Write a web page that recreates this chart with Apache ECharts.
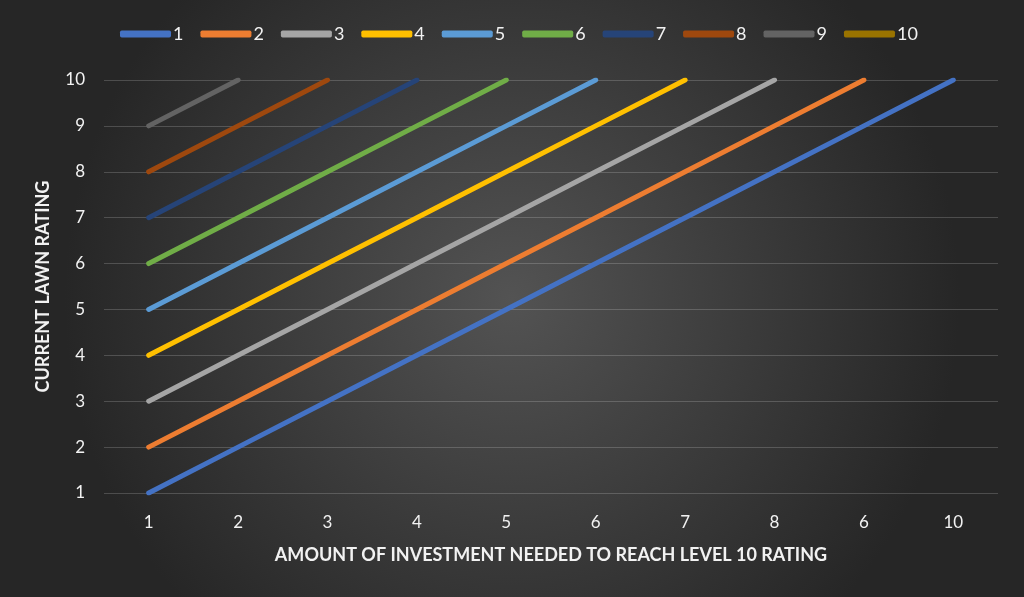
<!DOCTYPE html>
<html><head><meta charset="utf-8">
<script src="https://cdn.jsdelivr.net/npm/echarts@6/dist/echarts.min.js"></script>
<style>html,body{margin:0;padding:0;}#c{width:1024px;height:597px;}</style>
</head><body><div id="c"></div>
<script>
const categories = ['1','2','3','4','5','6','7','8','6','10'];
const yTicks = [1,2,3,4,5,6,7,8,9,10];
const seriesNames = ['1','2','3','4','5','6','7','8','9','10'];
const s1 = [1,2,3,4,5,6,7,8,9,10];
const s2 = [2,3,4,5,6,7,8,9,10,null];
const s3 = [3,4,5,6,7,8,9,10,null,null];
const s4 = [4,5,6,7,8,9,10,null,null,null];
const s5 = [5,6,7,8,9,10,null,null,null,null];
const s6 = [6,7,8,9,10,null,null,null,null,null];
const s7 = [7,8,9,10,null,null,null,null,null,null];
const s8 = [8,9,10,null,null,null,null,null,null,null];
const s9 = [9,10,null,null,null,null,null,null,null,null];
const s10 = [10,null,null,null,null,null,null,null,null,null];
const allSeries = [s1,s2,s3,s4,s5,s6,s7,s8,s9,s10];
const colors = ['#4472C4','#ED7D31','#A5A5A5','#FFC000','#5B9BD5','#70AD47','#264478','#9E480E','#636363','#997300'];

const font = 'Lato, "Open Sans", sans-serif';
const chart = echarts.init(document.getElementById('c'));
chart.setOption({
  backgroundColor: {
    type: 'radial', x: 0.5, y: 0.5, r: 0.75,
    colorStops: [{offset: 0, color: '#535353'}, {offset: 1, color: '#262626'}]
  },
  color: colors,
  textStyle: {fontFamily: font},
  legend: {
    top: 20, left: 115, itemWidth: 51, itemHeight: 7, itemGap: 17,
    icon: 'roundRect',
    textStyle: {color: '#f2f2f2', fontSize: 18, fontFamily: font, padding: [0,0,0,-3]},
    data: seriesNames
  },
  grid: {left: 104, right: 26, top: 80, bottom: 104, containLabel: false},
  xAxis: {
    type: 'category', data: categories, boundaryGap: true,
    name: 'AMOUNT OF INVESTMENT NEEDED TO REACH LEVEL 10 RATING',
    nameLocation: 'middle', nameGap: 53,
    nameTextStyle: {color: '#f2f2f2', fontSize: 18, fontWeight: 'bold', fontFamily: font},
    axisLine: {show: false}, axisTick: {show: false},
    axisLabel: {color: '#f2f2f2', fontSize: 17, margin: 21, fontFamily: font}
  },
  yAxis: {
    type: 'value', min: 1, max: 10, interval: 1,
    name: 'CURRENT LAWN RATING', nameLocation: 'middle', nameGap: 52,
    nameTextStyle: {color: '#f2f2f2', fontSize: 18, fontWeight: 'bold', fontFamily: font},
    axisLine: {show: false}, axisTick: {show: false},
    axisLabel: {color: '#f2f2f2', fontSize: 17, margin: 19, fontFamily: font},
    splitLine: {lineStyle: {color: 'rgba(255,255,255,0.18)', width: 1}}
  },
  series: allSeries.map((d, i) => ({
    name: seriesNames[i], type: 'line', data: d,
    showSymbol: false, symbol: 'none',
    lineStyle: {width: 5, cap: 'round', color: colors[i]},
    itemStyle: {color: colors[i]},
    z: 10 - i
  }))
});
</script></body></html>
